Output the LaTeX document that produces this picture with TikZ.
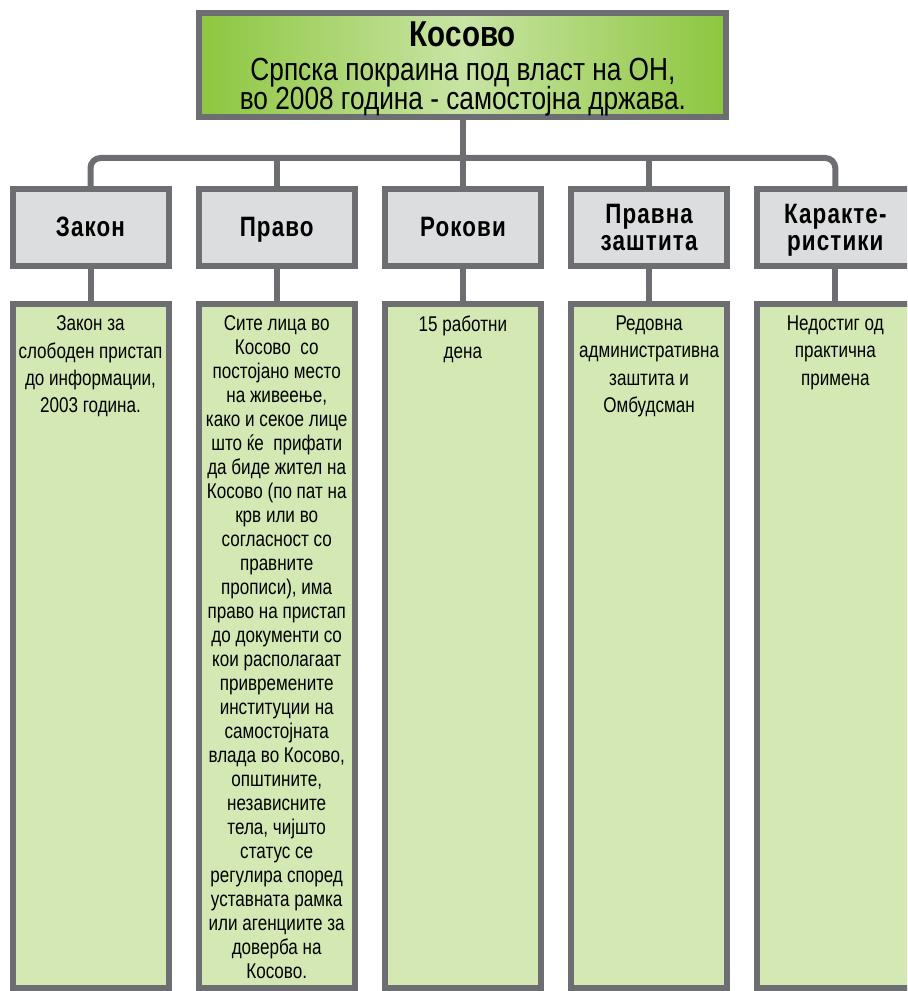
\documentclass[tikz,border=0pt]{standalone}
\usepackage{fontspec}
\setmainfont{Liberation Sans}
\newfontfamily\bodyfont{Liberation Sans}[FakeStretch=0.8]
\newfontfamily\headfont{Liberation Sans}[FakeStretch=0.8,LetterSpace=4]
\newfontfamily\titlefont{Liberation Sans}[FakeStretch=0.82]
\definecolor{framegray}{HTML}{6D6E71}
\definecolor{headfill}{HTML}{DCDDDE}
\definecolor{cellfill}{HTML}{D3E8B3}
\definecolor{greenedge}{HTML}{8DC63F}
\definecolor{greenmid}{HTML}{C8E4A4}
\begin{document}
\begin{tikzpicture}[x=0.75pt,y=-0.75pt,
  box/.style={draw=framegray,line width=4.5pt,inner sep=0pt,rectangle},
  headbox/.style={box,fill=headfill,minimum width=117pt,minimum height=57.75pt},
  cellbox/.style={box,fill=cellfill,minimum width=117pt,minimum height=513pt},
  topbox/.style={box,left color=greenedge,right color=greenedge,middle color=greenmid,
    minimum width=395.25pt,minimum height=78pt},
  % the invisible rule fixes the height of the first line, so anchor=north
  % sits a known distance above the first baseline
  headtext/.style={align=center,inner sep=0pt,anchor=north,
    font=\fontsize{21}{20.8}\headfont\bfseries,execute at begin node={\rule{0pt}{16pt}}},
  celltext/.style={align=center,inner sep=0pt,anchor=north,
    font=\fontsize{16}{20.4}\bodyfont,execute at begin node={\rule{0pt}{13pt}}},
  longtext/.style={celltext,font=\fontsize{16}{18}\bodyfont},
  conn/.style={draw=framegray,line width=4.5pt}]
\useasboundingbox (0,0) rectangle (907,991);
\clip (0,0) rectangle (907,991);

% root box
\node[topbox] (top) at (462.9,65) {};
\node[anchor=base,inner sep=0pt,font=\fontsize{27}{27}\titlefont\bfseries] (ttl) at (462.9,47) {Косово};
\node[anchor=base,inner sep=0pt,font=\fontsize{24}{24}\titlefont] (sub1) at (462.9,81) {Српска покраина под власт на ОН,};
\node[anchor=base,inner sep=0pt,font=\fontsize{24}{24}\titlefont] (sub2) at (462.9,110) {во 2008 година - самостојна држава.};

% category headers
\node[headbox] (h1) at (90.5,227.5) {};
\node[headbox] (h2) at (276.7,227.5) {};
\node[headbox] (h3) at (462.9,227.5) {};
\node[headbox] (h4) at (649.1,227.5) {};
\node[headbox] (h5) at (835.3,227.5) {};
\node[headtext] (t1) at ([yshift=9.6pt]h1.center) {Закон};
\node[headtext] (t2) at ([yshift=9.6pt]h2.center) {Право};
\node[headtext] (t3) at ([yshift=9.6pt]h3.center) {Рокови};
\node[headtext] (t4) at ([yshift=18pt]h4.center) {Правна\\заштита};
\node[headtext] (t5) at ([yshift=18pt]h5.center) {Карак\-те-\\ристики};

% detail columns
\node[cellbox] (c1) at (90.5,646) {};
\node[cellbox] (c2) at (276.7,646) {};
\node[cellbox] (c3) at (462.9,646) {};
\node[cellbox] (c4) at (649.1,646) {};
\node[cellbox] (c5) at (835.3,646) {};

\node[celltext] (d1) at ([yshift=-11pt]c1.north) {Закон за\\слободен пристап\\до информации,\\2003 година.};
\node[longtext] (d2) at ([yshift=-10.5pt]c2.north) {Сите лица во\\Косово\ \ со\\постојано место\\на живеење,\\како и секое лице\\што ќе\ \ прифати\\да биде жител на\\Косово (по пат на\\крв или во\\согласност со\\правните\\прописи), има\\право на пристап\\до документи со\\кои располагаат\\привремените\\институции на\\самостојната\\влада во Косово,\\општините,\\независните\\тела, чијшто\\статус се\\регулира според\\уставната рамка\\или агенциите за\\доверба на\\Косово.};
\node[celltext] (d3) at ([yshift=-11pt]c3.north) {15 работни\\дена};
\node[celltext] (d4) at ([yshift=-11pt]c4.north) {Редовна\\административна\\заштита и\\Омбудсман};
\node[celltext] (d5) at ([yshift=-11pt]c5.north) {Недостиг од\\практична\\примена};

% connectors
\path (top.south) ++(0,38) coordinate (hub);
\draw[conn] (top.south) -- (hub);
\draw[conn,rounded corners=7.5pt] (h1.north) |- (hub) -| (h5.north);
\draw[conn] (h2.north) -- (h2.north |- hub);
\draw[conn] (h3.north) -- (h3.north |- hub);
\draw[conn] (h4.north) -- (h4.north |- hub);
\foreach \i in {1,...,5} {\draw[conn] (h\i.south) -- (c\i.north);}
\end{tikzpicture}
\end{document}
